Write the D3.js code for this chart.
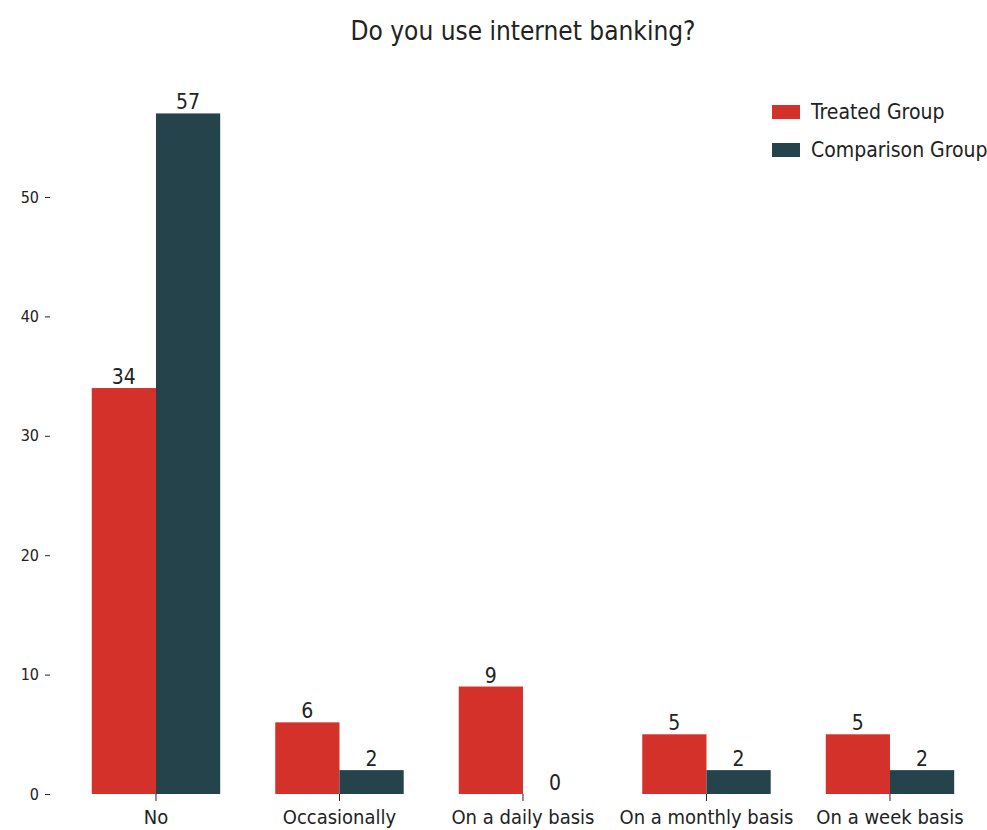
<!DOCTYPE html>
<html><head><meta charset="utf-8">
<script src="https://cdn.jsdelivr.net/npm/d3@7"></script>
<style>
body{margin:0;background:#fff;}
text{font-family:"DejaVu Sans Condensed","Liberation Sans Narrow",sans-serif;fill:#222;}
</style></head>
<body><svg id="c" width="987" height="830"></svg>
<script>
const categories = ["No","Occasionally","On a daily basis","On a monthly basis","On a week basis"];
const seriesNames = ["Treated Group","Comparison Group"];
const treated = [34,6,9,5,5];
const comparison = [57,2,0,2,2];
const yTicks = [0,10,20,30,40,50];
const colors = ["#d5312b","#25434b"];
const title = "Do you use internet banking?";

const svg = d3.select("#c");
const x = d3.scaleBand().domain(categories).range([91.75,954.2]).paddingInner(0.3).paddingOuter(0);
const xs = d3.scaleBand().domain(seriesNames).range([0,x.bandwidth()]);
const y = d3.scaleLinear().domain([0,50]).range([794,197]);

const data = categories.map((c,i)=>({cat:c, vals:[treated[i],comparison[i]]}));

svg.append("text").attr("x",523).attr("y",40).attr("text-anchor","middle")
  .style("font-size","26px").text(title);

const g = svg.selectAll(".grp").data(data).join("g").attr("transform",d=>`translate(${x(d.cat)},0)`);
g.selectAll("rect").data(d=>d.vals.map((v,j)=>({v,s:seriesNames[j],j})))
  .join("rect").attr("x",d=>xs(d.s)).attr("width",xs.bandwidth())
  .attr("y",d=>y(d.v)).attr("height",d=>y(0)-y(d.v)).attr("fill",d=>colors[d.j]);
g.selectAll("text.val").data(d=>d.vals.map((v,j)=>({v,s:seriesNames[j],j})))
  .join("text").attr("class","val").attr("x",d=>xs(d.s)+xs.bandwidth()/2).attr("y",d=>y(d.v)-4)
  .attr("text-anchor","middle").style("font-size","21px").text(d=>d.v);

const ya = svg.append("g").attr("transform","translate(50,0)")
  .call(d3.axisLeft(y).tickValues(yTicks).tickSize(5).tickPadding(6).tickFormat(d3.format("d")));
ya.select(".domain").remove();
ya.selectAll("text").style("font-size","16px");
ya.selectAll("line").attr("stroke","#222");

const xa = svg.append("g").attr("transform","translate(0,794)")
  .call(d3.axisBottom(x).tickSize(7).tickPadding(9));
xa.select(".domain").remove();
xa.selectAll("text").style("font-size","20px");
xa.selectAll("line").attr("stroke","#222");

const lg = svg.append("g").attr("transform","translate(772,100)");
seriesNames.forEach((s,i)=>{
  lg.append("rect").attr("x",0).attr("y",5+i*38).attr("width",28).attr("height",14).attr("fill",colors[i]);
  lg.append("text").attr("x",39).attr("y",19+i*38).style("font-size","21px").text(s);
});
</script></body></html>
